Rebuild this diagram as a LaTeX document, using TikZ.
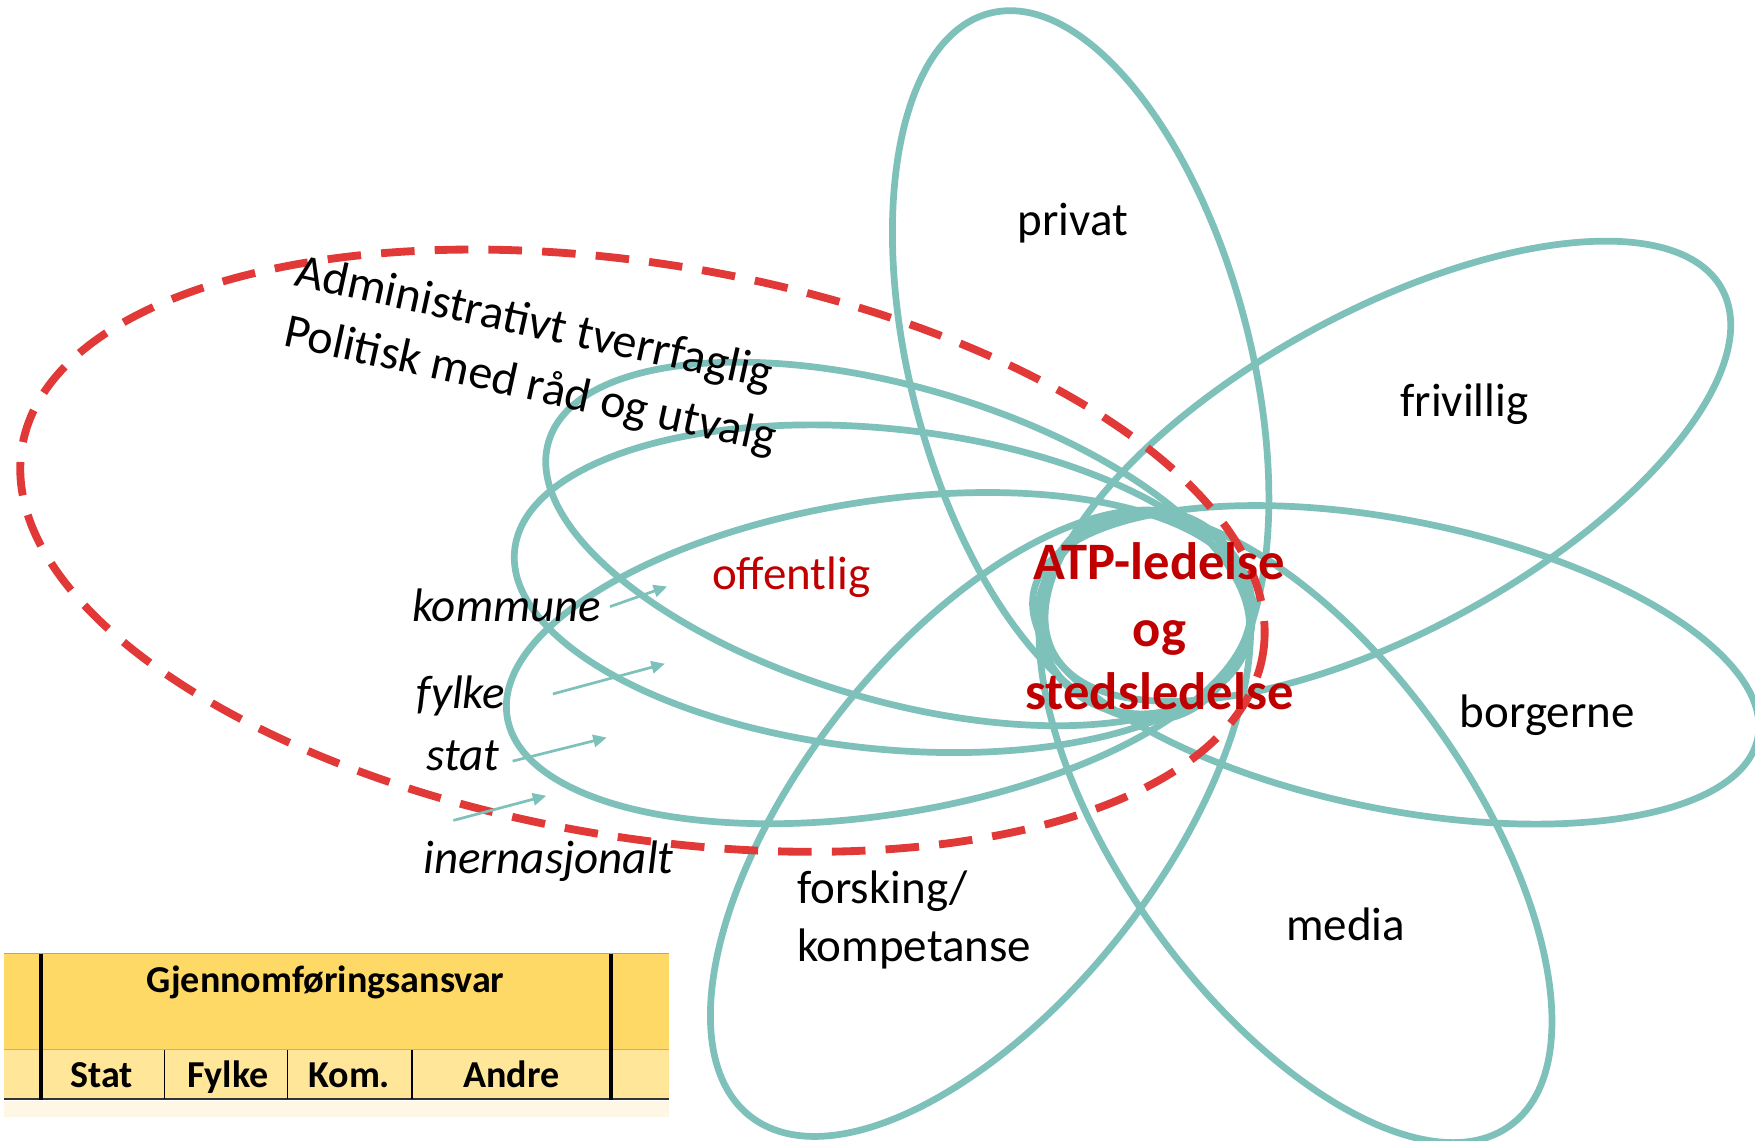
\documentclass[tikz,border=0pt]{standalone}
\usepackage{fontspec}
\setmainfont{Carlito}
\usetikzlibrary{arrows.meta}
\definecolor{teal1}{RGB}{126,192,186}
\definecolor{redd}{RGB}{225,56,56}
\definecolor{darkred}{RGB}{192,0,0}
\definecolor{hdr}{RGB}{255,217,102}
\definecolor{rowtwo}{RGB}{255,230,153}
\definecolor{rowthree}{RGB}{255,247,230}
\newcommand\petal[5]{\draw[petal, rotate around={#3:(#1,#2)}] (#1,#2) ellipse [x radius=#4pt, y radius=#5pt];}
\begin{document}
\begin{tikzpicture}[x=1pt,y=-1pt,
  petal/.style={draw=teal1, line width=6pt},
  dashring/.style={draw=redd, line width=7pt, dash pattern=on 30pt off 18pt},
  lbl/.style={font=\fontsize{42}{50}\selectfont, inner sep=0pt},
  slbl/.style={font=\fontsize{43}{50}\selectfont, inner sep=0pt},
  ilbl/.style={font=\fontsize{42}{50}\selectfont\itshape, inner sep=0pt},
  atp/.style={font=\fontsize{47}{58}\selectfont\bfseries, text=darkred, inner sep=0pt},
  tarrow/.style={draw=teal1, line width=2.4pt, -{Triangle[length=12pt,width=11pt]}},
  tbl/.style={font=\fontsize{34}{40}\selectfont\bfseries, inner sep=0pt}
]
\useasboundingbox (0,0) rectangle (1568,1019);
\fill[white] (0,0) rectangle (1568,1019);

% petals
\petal{965.5}{326.5}{104.5}{325}{152}
\petal{1240}{421}{28.6}{340}{143}
\petal{1247}{594}{-11.4}{330}{129}
\petal{1157.5}{739.5}{125.7}{328}{155}
\petal{876}{735.5}{51.8}{333}{160}
\petal{802}{486}{-16.3}{325}{140}
\petal{789}{526}{-6}{331}{143}
\petal{785}{588}{9}{336}{140}
\draw[petal, line width=7pt, rotate around={12:(1023,549)}] (1023,549) ellipse [x radius=96pt, y radius=89pt];

% red dashed ellipse
\draw[dashring, rotate around={-9.5:(574,492)}] (574,492) ellipse [x radius=562pt, y radius=256pt];

% table
\fill[hdr] (4,852) rectangle (598,938);
\fill[rowtwo] (4,938) rectangle (598,982);
\fill[rowthree] (4,984) rectangle (598,998);
\draw[gray!70, line width=1.2pt] (4,852) -- (598,852);
\draw[gray!60, line width=1pt] (4,938) -- (598,938);
\draw[black!80, line width=1.2pt] (4,982) -- (598,982);
\draw[black, line width=3.5pt] (37,852) -- (37,983);
\draw[black, line width=3.5pt] (545.5,852) -- (545.5,983);
\foreach \xx in {147,257,368} \draw[black, line width=1.2pt] (\xx,938) -- (\xx,982);
\node[tbl, anchor=base] (gj) at (291,887) {Gjennomføringsansvar};
\node[tbl, anchor=base] (tstat) at (91,972) {Stat};
\node[tbl, anchor=base] (tfylke) at (203.5,972) {Fylke};
\node[tbl, anchor=base] (tkom) at (312,972) {Kom.};
\node[tbl, anchor=base] (tandre) at (457,972) {Andre};

% labels
\node[lbl, anchor=base west] (privat) at (909,210) {privat};
\node[lbl, anchor=base west] (frivillig) at (1251,372) {frivillig};
\node[lbl, anchor=base west] (borgerne) at (1304,650) {borgerne};
\node[lbl, anchor=base west] (media) at (1149,840) {media};
\node[lbl, anchor=base west] (forsking) at (712,807) {forsking/};
\node[lbl, anchor=base west] (kompetanse) at (712,859) {kompetanse};
\node[lbl, anchor=base west, text=darkred] (offentlig) at (636,527) {offentlig};
\node[atp, anchor=base] (atpa) at (1036,518) {ATP-ledelse};
\node[atp, anchor=base] (atpb) at (1036,578) {og};
\node[atp, anchor=base] (atpc) at (1036,634) {stedsledelse};
\node[ilbl, anchor=base west] (kommune) at (368,555) {kommune};
\node[ilbl, anchor=base west] (fylke) at (372,633) {fylke};
\node[ilbl, anchor=base west] (stat) at (381,688) {stat};
\node[ilbl, anchor=base west] (intl) at (378,780) {inernasjonalt};
\node[slbl, anchor=base west, rotate=-12.3] (adm) at (262,255) {Administrativt tverrfaglig};
\node[slbl, anchor=base west, rotate=-12.3] (pol) at (252,309) {Politisk med råd og utvalg};

% arrows
\coordinate (kt) at (545,542); \coordinate (kh) at (596,524);
\coordinate (ft) at (494,620); \coordinate (fh) at (594,593);
\coordinate (st) at (458,680); \coordinate (sh) at (542,659);
\coordinate (it) at (405,733); \coordinate (ih) at (488,711);
\draw[tarrow] (kt) -- (kh);
\draw[tarrow] (ft) -- (fh);
\draw[tarrow] (st) -- (sh);
\draw[tarrow] (it) -- (ih);
\end{tikzpicture}
\end{document}
